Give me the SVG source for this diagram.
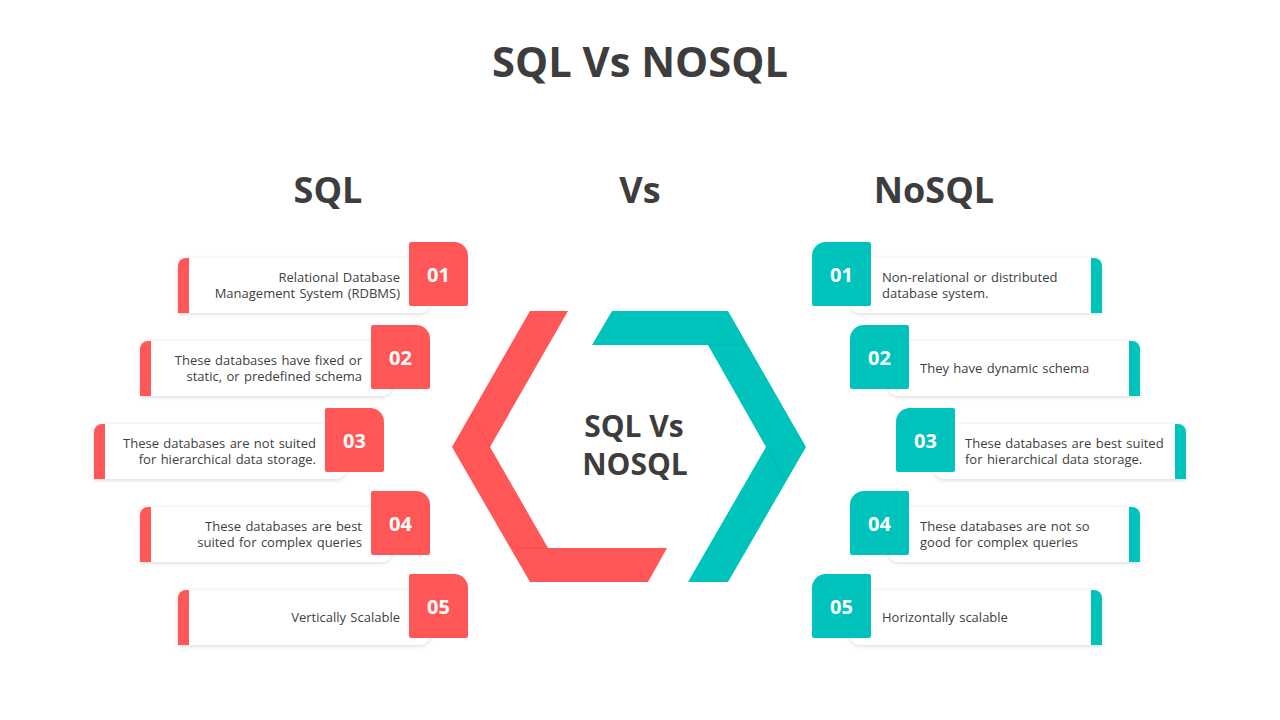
<svg xmlns="http://www.w3.org/2000/svg" width="1280" height="720" viewBox="0 0 1280 720">
<defs>
<style>
.title{font-family:"Open Sans","Noto Sans",sans-serif;font-weight:700;fill:#3d3d3d}
.body{font-family:"Open Sans","Noto Sans",sans-serif;font-size:13px;word-spacing:1px;fill:#404040}
.num{font-family:"Open Sans","Noto Sans",sans-serif;font-weight:700;font-size:20px;fill:#fff;text-anchor:middle}
.red{fill:#FF5757}
.teal{fill:#00C4BC}
.card{fill:#fff}
.seam{stroke:#000;stroke-opacity:0.07;stroke-width:1.2;fill:none}
</style>
<filter id="sh" x="-10%" y="-20%" width="120%" height="150%">
<feDropShadow dx="0" dy="1" stdDeviation="2" flood-color="#000" flood-opacity="0.16"/>
</filter>
</defs>
<rect width="1280" height="720" fill="#fff"/>
<text class="title" x="640" y="77" font-size="41.7" text-anchor="middle">SQL Vs NOSQL</text>
<text class="title" x="328" y="203" font-size="36" text-anchor="middle">SQL</text>
<text class="title" x="640" y="203" font-size="36" text-anchor="middle">Vs</text>
<text class="title" x="934" y="203" font-size="36" text-anchor="middle">NoSQL</text>

<g id="hexagon">
<polygon class="red" points="568,311 530,311 452,447 530,582 648,582 667,548 548,548 490,447"/>
<polygon class="teal" points="612,311 728,311 806,447 728,582 688,582 766,447 708,345 592,345"/>
<line class="seam" x1="471" y1="414" x2="490" y2="447"/>
<line class="seam" x1="512" y1="548" x2="548" y2="548"/>
<line class="seam" x1="708" y1="345" x2="747" y2="345"/>
<line class="seam" x1="766" y1="447" x2="786" y2="481"/>
<text class="title" x="634" y="437" font-size="30" text-anchor="middle">SQL Vs</text>
<text class="title" x="635" y="475" font-size="30" text-anchor="middle">NOSQL</text>
</g>

<g id="connectors"></g>

<!-- Left cards -->
<g id="sql-01">
<path class="card" filter="url(#sh)" d="M178,266 a8,8 0 0 1 8,-8 H430 V303 a10,10 0 0 1 -10,10 H178 Z"/>
<path class="red" d="M178,266 a8,8 0 0 1 8,-8 H189 V313 H178 Z"/>
<path class="red" d="M411,242 H454 a14,14 0 0 1 14,14 V304 a2,2 0 0 1 -2,2 H411 a2,2 0 0 1 -2,-2 V244 a2,2 0 0 1 2,-2 Z"/>
<text class="num" x="438.5" y="282">01</text>
<text class="body" text-anchor="end"><tspan x="400" y="282">Relational  Database</tspan><tspan x="400" y="298">Management System (RDBMS)</tspan></text>
</g>
<g id="sql-02">
<path class="card" filter="url(#sh)" d="M140,349 a8,8 0 0 1 8,-8 H392 V386 a10,10 0 0 1 -10,10 H140 Z"/>
<path class="red" d="M140,349 a8,8 0 0 1 8,-8 H151 V396 H140 Z"/>
<path class="red" d="M373,325 H416 a14,14 0 0 1 14,14 V387 a2,2 0 0 1 -2,2 H373 a2,2 0 0 1 -2,-2 V327 a2,2 0 0 1 2,-2 Z"/>
<text class="num" x="400.5" y="365">02</text>
<text class="body" text-anchor="end"><tspan x="362" y="365">These databases have fixed  or</tspan><tspan x="362" y="381">static, or predefined schema</tspan></text>
</g>
<g id="sql-03">
<path class="card" filter="url(#sh)" d="M94,432 a8,8 0 0 1 8,-8 H346 V469 a10,10 0 0 1 -10,10 H94 Z"/>
<path class="red" d="M94,432 a8,8 0 0 1 8,-8 H105 V479 H94 Z"/>
<path class="red" d="M327,408 H370 a14,14 0 0 1 14,14 V470 a2,2 0 0 1 -2,2 H327 a2,2 0 0 1 -2,-2 V410 a2,2 0 0 1 2,-2 Z"/>
<text class="num" x="354.5" y="448">03</text>
<text class="body" text-anchor="end"><tspan x="316" y="448">These databases are not suited</tspan><tspan x="316" y="464">for hierarchical  data storage.</tspan></text>
</g>
<g id="sql-04">
<path class="card" filter="url(#sh)" d="M140,515 a8,8 0 0 1 8,-8 H392 V552 a10,10 0 0 1 -10,10 H140 Z"/>
<path class="red" d="M140,515 a8,8 0 0 1 8,-8 H151 V562 H140 Z"/>
<path class="red" d="M373,491 H416 a14,14 0 0 1 14,14 V553 a2,2 0 0 1 -2,2 H373 a2,2 0 0 1 -2,-2 V493 a2,2 0 0 1 2,-2 Z"/>
<text class="num" x="400.5" y="531">04</text>
<text class="body" text-anchor="end"><tspan x="362" y="531">These databases are best</tspan><tspan x="362" y="547">suited for complex queries</tspan></text>
</g>
<g id="sql-05">
<path class="card" filter="url(#sh)" d="M178,598 a8,8 0 0 1 8,-8 H430 V635 a10,10 0 0 1 -10,10 H178 Z"/>
<path class="red" d="M178,598 a8,8 0 0 1 8,-8 H189 V645 H178 Z"/>
<path class="red" d="M411,574 H454 a14,14 0 0 1 14,14 V636 a2,2 0 0 1 -2,2 H411 a2,2 0 0 1 -2,-2 V576 a2,2 0 0 1 2,-2 Z"/>
<text class="num" x="438.5" y="614">05</text>
<text class="body" text-anchor="end" x="400" y="622">Vertically Scalable</text>
</g>

<!-- Right cards -->
<g id="nosql-01">
<path class="card" filter="url(#sh)" d="M850,258 H1094 a8,8 0 0 1 8,8 V313 H860 a10,10 0 0 1 -10,-10 Z"/>
<path class="teal" d="M1091,258 H1094 a8,8 0 0 1 8,8 V313 H1091 Z"/>
<path class="teal" d="M826,242 H869 a2,2 0 0 1 2,2 V304 a2,2 0 0 1 -2,2 H814 a2,2 0 0 1 -2,-2 V256 a14,14 0 0 1 14,-14 Z"/>
<text class="num" x="841.5" y="282">01</text>
<text class="body"><tspan x="882" y="282">Non-relational or distributed</tspan><tspan x="882" y="298">database system.</tspan></text>
</g>
<g id="nosql-02">
<path class="card" filter="url(#sh)" d="M888,341 H1132 a8,8 0 0 1 8,8 V396 H898 a10,10 0 0 1 -10,-10 Z"/>
<path class="teal" d="M1129,341 H1132 a8,8 0 0 1 8,8 V396 H1129 Z"/>
<path class="teal" d="M864,325 H907 a2,2 0 0 1 2,2 V387 a2,2 0 0 1 -2,2 H852 a2,2 0 0 1 -2,-2 V339 a14,14 0 0 1 14,-14 Z"/>
<text class="num" x="879.5" y="365">02</text>
<text class="body" x="920" y="373">They have dynamic schema</text>
</g>
<g id="nosql-03">
<path class="card" filter="url(#sh)" d="M934,424 H1178 a8,8 0 0 1 8,8 V479 H944 a10,10 0 0 1 -10,-10 Z"/>
<path class="teal" d="M1175,424 H1178 a8,8 0 0 1 8,8 V479 H1175 Z"/>
<path class="teal" d="M910,408 H953 a2,2 0 0 1 2,2 V470 a2,2 0 0 1 -2,2 H898 a2,2 0 0 1 -2,-2 V422 a14,14 0 0 1 14,-14 Z"/>
<text class="num" x="925.5" y="448">03</text>
<text class="body"><tspan x="965" y="448">These databases are best suited</tspan><tspan x="965" y="464">for hierarchical  data storage.</tspan></text>
</g>
<g id="nosql-04">
<path class="card" filter="url(#sh)" d="M888,507 H1132 a8,8 0 0 1 8,8 V562 H898 a10,10 0 0 1 -10,-10 Z"/>
<path class="teal" d="M1129,507 H1132 a8,8 0 0 1 8,8 V562 H1129 Z"/>
<path class="teal" d="M864,491 H907 a2,2 0 0 1 2,2 V553 a2,2 0 0 1 -2,2 H852 a2,2 0 0 1 -2,-2 V505 a14,14 0 0 1 14,-14 Z"/>
<text class="num" x="879.5" y="531">04</text>
<text class="body"><tspan x="920" y="531">These databases are not so</tspan><tspan x="920" y="547">good for complex queries</tspan></text>
</g>
<g id="nosql-05">
<path class="card" filter="url(#sh)" d="M850,590 H1094 a8,8 0 0 1 8,8 V645 H860 a10,10 0 0 1 -10,-10 Z"/>
<path class="teal" d="M1091,590 H1094 a8,8 0 0 1 8,8 V645 H1091 Z"/>
<path class="teal" d="M826,574 H869 a2,2 0 0 1 2,2 V636 a2,2 0 0 1 -2,2 H814 a2,2 0 0 1 -2,-2 V588 a14,14 0 0 1 14,-14 Z"/>
<text class="num" x="841.5" y="614">05</text>
<text class="body" x="882" y="622">Horizontally scalable</text>
</g>
</svg>
